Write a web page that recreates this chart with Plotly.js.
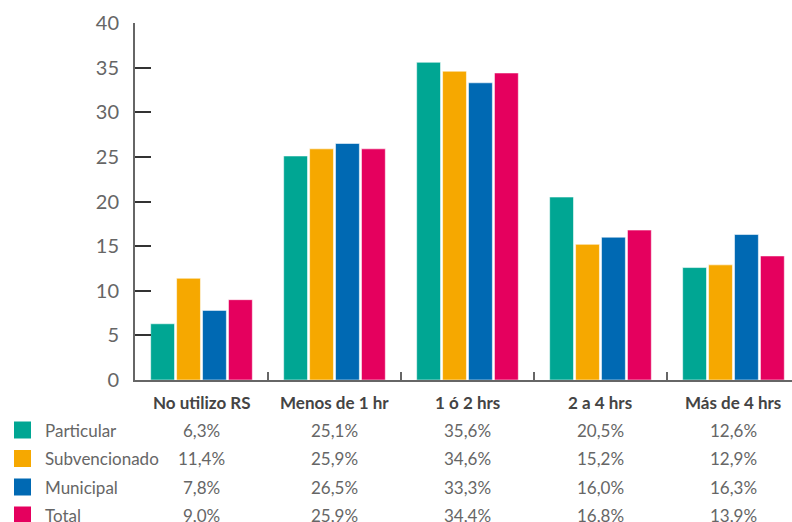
<!DOCTYPE html>
<html>
<head>
<meta charset="utf-8">
<script src="https://cdn.plot.ly/plotly-3.0.1.min.js"></script>
<style>html,body{margin:0;padding:0;background:#fff;}#chart{width:792px;height:522px;}</style>
</head>
<body>
<div id="chart"></div>
<script>
var categories = ["No utilizo RS", "Menos de 1 hr", "1 ó 2 hrs", "2 a 4 hrs", "Más de 4 hrs"];
var seriesNames = ["Particular", "Subvencionado", "Municipal", "Total"];
var particular    = [6.3, 25.1, 35.6, 20.5, 12.6];
var subvencionado = [11.4, 25.9, 34.6, 15.2, 12.9];
var municipal     = [7.8, 26.5, 33.3, 16.0, 16.3];
var total         = [9.0, 25.9, 34.4, 16.8, 13.9];
var yTicks = [0, 5, 10, 15, 20, 25, 30, 35, 40];

var seriesValues = [particular, subvencionado, municipal, total];
var colors = ["#00A693", "#F6A800", "#0069B3", "#E5005E"];

var W = 792, H = 522;
var L = 135, R = 0, T = 23, B = 142;
var plotW = W - L - R, plotH = H - T - B;
function px2paperX(px) { return (px - L) / plotW; }
function px2paperY(py) { return (H - B - py) / plotH; }

function fmt(v) { return v.toFixed(1).replace(".", ",") + "%"; }

var font = "Lato, 'Open Sans', sans-serif";

var traces = seriesNames.map(function (name, i) {
  return {
    type: "bar",
    name: name,
    x: categories,
    y: seriesValues[i],
    marker: { color: colors[i], line: { color: "rgba(255,255,255,0.55)", width: 1 } },
    hoverinfo: "skip"
  };
});

var annotations = [];
var shapes = [];
// category header row
categories.forEach(function (c) {
  annotations.push({
    x: c, xref: "x", y: px2paperY(402), yref: "paper",
    text: "<b>" + c + "</b>", showarrow: false, xanchor: "center", yanchor: "middle",
    font: { family: font, size: 17, color: "#444" }
  });
});
var rowY = [430, 458.5, 487, 515];
seriesNames.forEach(function (name, i) {
  shapes.push({
    type: "rect", xref: "paper", yref: "paper",
    x0: px2paperX(14), x1: px2paperX(31),
    y0: px2paperY(rowY[i] - 8.5), y1: px2paperY(rowY[i] + 8.5),
    fillcolor: colors[i], line: { width: 0 }
  });
  annotations.push({
    x: px2paperX(43), xref: "paper", y: px2paperY(rowY[i]), yref: "paper",
    text: name, showarrow: false, xanchor: "left", yanchor: "middle",
    font: { family: font, size: 17, color: "#666" }
  });
  categories.forEach(function (c, j) {
    annotations.push({
      x: c, xref: "x", y: px2paperY(rowY[i]), yref: "paper",
      text: fmt(seriesValues[i][j]), showarrow: false, xanchor: "center", yanchor: "middle",
      font: { family: font, size: 17, color: "#666" }
    });
  });
});

var layout = {
  width: W, height: H,
  margin: { l: L, r: R, t: T, b: B, pad: 0 },
  paper_bgcolor: "#fff", plot_bgcolor: "#fff",
  showlegend: false,
  barmode: "group",
  bargap: 0.22,
  bargroupgap: 0.08,
  font: { family: font, color: "#666" },
  xaxis: {
    type: "category",
    range: [-0.5, 4.44],
    showgrid: false, zeroline: false,
    showline: true, linecolor: "#666", linewidth: 2,
    ticks: "inside", tickson: "boundaries", ticklen: 8, tickwidth: 2, tickcolor: "#666",
    showticklabels: false
  },
  yaxis: {
    range: [0, 40],
    tickvals: yTicks,
    ticktext: yTicks.map(String),
    showgrid: false, zeroline: false,
    showline: true, linecolor: "#666", linewidth: 2,
    ticks: "inside", ticklen: 16, tickwidth: 2, tickcolor: "#333",
    ticklabelstandoff: 10,
    tickfont: { family: font, size: 20, color: "#666" }
  },
  annotations: annotations,
  shapes: shapes
};

Plotly.newPlot("chart", traces, layout, { staticPlot: true, displayModeBar: false });
</script>
</body>
</html>
